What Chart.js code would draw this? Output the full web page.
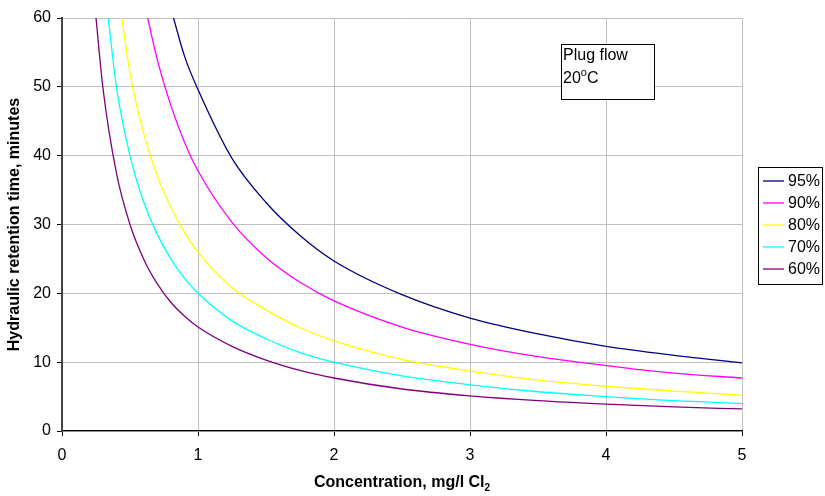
<!DOCTYPE html>
<html>
<head>
<meta charset="utf-8">
<script src="https://cdn.jsdelivr.net/npm/chart.js@4.4.1/dist/chart.umd.min.js"></script>
<style>
  html, body { margin: 0; padding: 0; background: #fff; }
  #wrap { width: 825px; height: 496px; }
</style>
</head>
<body>
<div id="wrap"><canvas id="retentionChart" width="825" height="496"></canvas></div>
<script>
// --- 接触時間曲線 (plug flow, 20°C) ---
const seriesLabels = ['95%', '90%', '80%', '70%', '60%'];
const seriesColors = ['#000080', '#ff00ff', '#ffff00', '#00ffff', '#800080'];

// concentration (mg/l Cl2) / retention time (min) for each curve
const conc95 = [0.82, 0.9, 1.0, 1.25, 1.5, 1.75, 2.0, 2.5, 3.0, 3.5, 4.0, 4.5, 5.0];
const time95 = [60, 54.5, 49.6, 39.6, 33.2, 28.4, 24.7, 19.8, 16.4, 14.1, 12.3, 11.0, 9.9];

const conc90 = [0.63, 0.7, 0.8, 0.9, 1.0, 1.25, 1.5, 1.75, 2.0, 2.5, 3.0, 3.5, 4.0, 4.5, 5.0];
const time90 = [60, 54, 47.3, 42, 37.8, 30.3, 25.2, 21.6, 18.9, 15.1, 12.6, 10.8, 9.5, 8.4, 7.7];

const conc80 = [0.44, 0.5, 0.6, 0.7, 0.8, 0.9, 1.0, 1.25, 1.5, 1.75, 2.0, 2.5, 3.0, 3.5, 4.0, 4.5, 5.0];
const time80 = [60, 52, 43.3, 37.1, 32.5, 28.9, 26, 20.8, 17.6, 15.0, 13.1, 10.4, 8.7, 7.4, 6.5, 5.8, 5.2];

const conc70 = [0.34, 0.4, 0.5, 0.6, 0.7, 0.8, 0.9, 1.0, 1.25, 1.5, 1.75, 2.0, 2.5, 3.0, 3.5, 4.0, 4.5, 5.0];
const time70 = [60, 50, 40, 33.3, 28.6, 25, 22.2, 20, 16, 13.4, 11.4, 10, 8, 6.7, 5.7, 5.0, 4.4, 4.0];

const conc60 = [0.25, 0.3, 0.4, 0.5, 0.6, 0.7, 0.8, 0.9, 1.0, 1.25, 1.5, 1.75, 2.0, 2.5, 3.0, 3.5, 4.0, 4.5, 5.0];
const time60 = [60, 50, 37.5, 30, 25, 21.4, 18.7, 16.7, 15.1, 12.3, 10.3, 8.8, 7.7, 6.1, 5.1, 4.4, 3.9, 3.5, 3.2];

const xTicks = [0, 1, 2, 3, 4, 5];
const yTicks = [0, 10, 20, 30, 40, 50, 60];

const FONT = "'Liberation Sans', Arial, sans-serif";

function pairs(xs, ys) {
  return xs.map((x, i) => ({ x: x, y: ys[i] }));
}

const allData = [
  pairs(conc95, time95),
  pairs(conc90, time90),
  pairs(conc80, time80),
  pairs(conc70, time70),
  pairs(conc60, time60)
];

// 凡例・注記・X軸タイトル(下付き文字付き)を描く
const extrasPlugin = {
  id: 'extras',
  afterDraw(chart) {
    const ctx = chart.ctx;
    const area = chart.chartArea;
    ctx.save();

    // legend box
    const lx = 758, ly = 167, lw = 64, lh = 117;
    ctx.fillStyle = '#fff';
    ctx.fillRect(lx, ly, lw, lh);
    ctx.strokeStyle = '#000';
    ctx.lineWidth = 1;
    ctx.strokeRect(lx + 0.5, ly + 0.5, lw, lh);
    ctx.font = '16px ' + FONT;
    ctx.textBaseline = 'middle';
    seriesLabels.forEach((lab, i) => {
      const y = ly + 14 + i * 22;
      ctx.strokeStyle = seriesColors[i];
      ctx.lineWidth = 1.3;
      ctx.beginPath();
      ctx.moveTo(lx + 5, y);
      ctx.lineTo(lx + 26, y);
      ctx.stroke();
      ctx.fillStyle = '#000';
      ctx.fillText(lab, lx + 30, y + 1);
    });

    // text box
    const bx = 561, by = 44, bw = 93, bh = 55;
    ctx.fillStyle = '#fff';
    ctx.fillRect(bx, by, bw, bh);
    ctx.strokeStyle = '#000';
    ctx.lineWidth = 1;
    ctx.strokeRect(bx + 0.5, by + 0.5, bw, bh);
    ctx.fillStyle = '#000';
    ctx.font = '16px ' + FONT;
    ctx.textAlign = 'left';
    ctx.fillText('Plug flow', bx + 2, by + 12);
    ctx.fillText('20', bx + 2, by + 35);
    let w = ctx.measureText('20').width;
    ctx.font = '11px ' + FONT;
    ctx.fillText('o', bx + 2 + w, by + 29);
    w += ctx.measureText('o').width;
    ctx.font = '16px ' + FONT;
    ctx.fillText('C', bx + 2 + w, by + 35);

    // x axis title with subscript
    ctx.textBaseline = 'alphabetic';
    ctx.font = 'bold 16px ' + FONT;
    const t1 = 'Concentration, mg/l Cl';
    const w1 = ctx.measureText(t1).width;
    ctx.font = 'bold 10px ' + FONT;
    const w2 = ctx.measureText('2').width;
    const cx = (area.left + area.right) / 2;
    const sx = cx - (w1 + w2) / 2;
    ctx.font = 'bold 16px ' + FONT;
    ctx.fillText(t1, sx, 487);
    ctx.font = 'bold 10px ' + FONT;
    ctx.fillText('2', sx + w1, 491);

    ctx.restore();
  }
};

new Chart(document.getElementById('retentionChart').getContext('2d'), {
  type: 'scatter',
  data: {
    datasets: allData.map((d, i) => ({
      label: seriesLabels[i],
      data: d,
      showLine: true,
      borderColor: seriesColors[i],
      backgroundColor: seriesColors[i],
      borderWidth: 1.3,
      pointRadius: 0,
      cubicInterpolationMode: 'monotone',
      fill: false
    }))
  },
  plugins: [extrasPlugin],
  options: {
    responsive: false,
    animation: false,
    clip: 0,
    layout: {
      padding: { top: 18, right: 83, left: 0, bottom: 0 }
    },
    plugins: {
      legend: { display: false },
      tooltip: { enabled: false }
    },
    scales: {
      x: {
        type: 'linear',
        min: 0,
        max: 5,
        afterFit: (scale) => { scale.height = 65; },
        afterBuildTicks: (scale) => { scale.ticks = xTicks.map(v => ({ value: v })); },
        ticks: {
          color: '#000',
          font: { family: FONT, size: 16 },
          padding: 10
        },
        grid: {
          color: '#c0c0c0',
          lineWidth: 1,
          tickLength: 5,
          tickColor: '#000'
        },
        border: { color: '#000', width: 1.3 }
      },
      y: {
        type: 'linear',
        min: 0,
        max: 60,
        afterFit: (scale) => { scale.width = 62; },
        afterBuildTicks: (scale) => { scale.ticks = yTicks.map(v => ({ value: v })); },
        ticks: {
          color: '#000',
          font: { family: FONT, size: 16 },
          padding: 6
        },
        grid: {
          color: '#c0c0c0',
          lineWidth: 1,
          tickLength: 5,
          tickColor: '#000'
        },
        border: { color: '#444', width: 2 },
        title: {
          display: true,
          text: 'Hydraulic retention time, minutes',
          color: '#000',
          font: { family: FONT, size: 16, weight: 'bold' },
          padding: { top: 5, bottom: 0 }
        }
      }
    }
  }
});
</script>
</body>
</html>
